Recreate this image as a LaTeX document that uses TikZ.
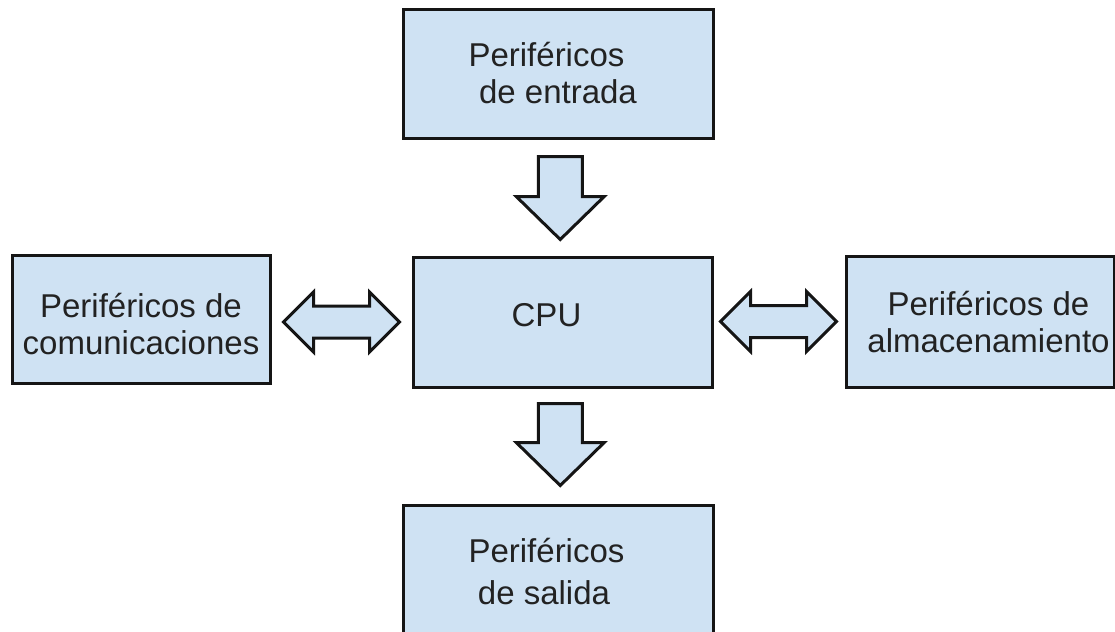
\documentclass[tikz,border=0pt]{standalone}
\usepackage{fontspec}
\setmainfont{Liberation Sans}
\usetikzlibrary{calc}
\definecolor{boxfill}{HTML}{CFE2F3}
\definecolor{boxline}{HTML}{151515}
\definecolor{txtcol}{HTML}{222222}

\begin{document}
\begin{tikzpicture}[x=0.5pt, y=-0.5pt,
    box/.style={draw=boxline, fill=boxfill, line width=1.5pt, inner sep=0pt},
    lbl/.style={align=center, text=txtcol, font=\fontsize{16.5}{18.5}\selectfont},
    blockarrow/.style={draw=boxline, fill=boxfill, line width=1.5pt}]
        \def\blockdown(#1)(#2){\draw[blockarrow] let \p1=(#1), \p2=(#2), \p3=($(#1)!0.5!(#2)$) in
            (\x3-11pt,\y1) -- (\x3+11pt,\y1) -- (\x3+11pt,\y2+21.5pt) -- (\x3+22pt,\y2+21.5pt)
            -- (\x3,\y2) -- (\x3-22pt,\y2+21.5pt) -- (\x3-11pt,\y2+21.5pt) -- cycle;}
        \def\blockboth(#1)(#2){\draw[blockarrow] let \p1=(#1), \p2=(#2) in
            (\x1,\y2) -- (\x1+15pt,\y2+15pt) -- (\x1+15pt,\y2+8pt) -- (\x2-15pt,\y2+8pt)
            -- (\x2-15pt,\y2+15pt) -- (\x2,\y2) -- (\x2-15pt,\y2-15pt) -- (\x2-15pt,\y2-8pt)
            -- (\x1+15pt,\y2-8pt) -- (\x1+15pt,\y2-15pt) -- cycle;}

        \clip (0,0) rectangle (1115,632);

        \node[box, minimum width=155pt, minimum height=64.5pt,
            label={[lbl]center:Periféricos\hspace*{11.5pt}\\de entrada}] (entrada) at (558,73.5) {};
        \node[box, minimum width=149.5pt, minimum height=65pt,
            label={[lbl, xshift=-8pt, yshift=3.5pt]center:CPU}] (cpu) at (562.5,322) {};
        \node[box, minimum width=129pt, minimum height=64pt,
            label={[lbl, yshift=-2.5pt]center:Periféricos de\\comunicaciones}] (comun) at (141,319) {};
        \node[box, minimum width=134pt, minimum height=65.5pt,
            label={[lbl, xshift=4.25pt, yshift=-0.5pt]center:Periféricos de\\almacenamiento}] (almac) at (980,321.5) {};
        \node[box, minimum width=155pt, minimum height=64.5pt,
            label={[lbl, yshift=-1pt, font=\fontsize{16.5}{21}\selectfont]center:Periféricos\hspace*{11.5pt}\\de salida\hspace*{14pt}}] (salida) at (558,569.5) {};

        \coordinate (e1) at ($(entrada.south)+(0,17)$);
        \coordinate (e2) at ($(cpu.north)+(0,-16)$);
        \coordinate (s1) at ($(cpu.south)+(0,15)$);
        \coordinate (s2) at ($(salida.north)+(0,-18)$);
        \coordinate (c1) at ($(comun.east)+(12,0)$);
        \coordinate (c2) at ($(cpu.west)+(-12,0)$);
        \coordinate (a1) at ($(cpu.east)+(7,0)$);
        \coordinate (a2) at ($(almac.west)+(-8,0)$);

        \blockdown(e1)(e2)
        \blockdown(s1)(s2)
        \blockboth(c1)(c2)
        \blockboth(a1)(a2)
    \end{tikzpicture}
\end{document}
